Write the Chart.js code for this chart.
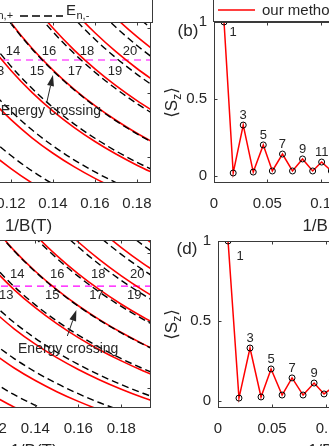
<!DOCTYPE html>
<html>
<head>
<meta charset="utf-8">
<script src="https://cdn.jsdelivr.net/npm/chart.js@4.4.1/dist/chart.umd.min.js"></script>
<style>
  html, body { margin: 0; padding: 0; background: #fff; }
  body { width: 329px; height: 446px; overflow: hidden; position: relative; }
  canvas { position: absolute; }
</style>
</head>
<body>
<canvas id="panelA"></canvas>
<canvas id="panelB"></canvas>
<canvas id="panelC"></canvas>
<canvas id="panelD"></canvas>
<script>
// ---- values ----
// (a) level energies E_{n,+} (solid red) and E_{n,-} (dashed black) vs 1/B
const invBA = [0.10, 0.11, 0.12, 0.13, 0.14, 0.15, 0.16, 0.17, 0.18, 0.19];
const ePlusA = [
  [6.799, 6.169, 5.645, 5.201, 4.820, null, null, null, null, null],
  [8.624, 7.829, 7.166, 6.605, 6.124, 5.707, 5.343, 5.021, null, null],
  [10.458, 9.496, 8.694, 8.016, 7.434, 6.930, 6.489, 6.100, 5.754, 5.445],
  [12.240, 11.116, 10.179, 9.386, 8.707, 8.118, 7.603, 7.148, 6.744, 6.382],
  [null, 12.777, 11.702, 10.792, 10.012, 9.336, 8.745, 8.223, 7.759, 7.344],
  [null, null, 13.197, 12.172, 11.294, 10.533, 9.867, 9.279, 8.756, 8.289],
  [null, null, null, null, 12.563, 11.717, 10.977, 10.323, 9.743, 9.224]
];
const eMinusA = [
  [7.289, 6.614, 6.053, 5.578, 5.170, 4.818, null, null, null, null],
  [8.944, 8.120, 7.433, 6.851, 6.353, 5.920, 5.543, 5.209, null, null],
  [10.618, 9.641, 8.827, 8.139, 7.548, 7.037, 6.589, 6.194, 5.843, 5.529],
  [12.210, 11.089, 10.154, 9.363, 8.686, 8.098, 7.584, 7.130, 6.727, 6.366],
  [null, 12.627, 11.564, 10.665, 9.894, 9.226, 8.642, 8.126, 7.667, 7.257],
  [null, null, 12.925, 11.921, 11.061, 10.316, 9.663, 9.087, 8.575, 8.117],
  [null, null, null, null, 12.214, 11.392, 10.672, 10.036, 9.472, 8.967],
  [null, null, null, null, null, null, 11.693, 10.998, 10.380, 9.827]
];
const fermiA = 9.02;

// (c) same quantities, second parameter set
const invBC = [0.12, 0.13, 0.14, 0.15, 0.16, 0.17, 0.18, 0.19, 0.20];
const ePlusC = [
  [5.777, 5.430, 5.132, 4.874, null, null, null, null, null],
  [7.042, 6.598, 6.217, 5.886, 5.597, 5.342, 5.116, null, null],
  [8.306, 7.765, 7.300, 6.898, 6.546, 6.235, 5.959, 5.711, 5.489],
  [9.571, 8.932, 8.384, 7.910, 7.494, 7.128, 6.802, 6.510, 6.248],
  [10.836, 10.100, 9.469, 8.922, 8.443, 8.021, 7.645, 7.309, 7.007],
  [12.101, 11.268, 10.553, 9.934, 9.392, 8.914, 8.489, 8.108, 7.766],
  [13.366, 12.435, 11.637, 10.946, 10.341, 9.807, 9.332, 8.907, 8.525],
  [null, 13.603, 12.722, 11.958, 11.289, 10.700, 10.175, 9.706, 9.284],
  [null, null, null, 12.970, 12.238, 11.592, 11.019, 10.505, 10.043]
];
const eMinusC = [
  [6.181, 5.803, 5.478, 5.197, null, null, null, null, null],
  [7.345, 6.878, 6.477, 6.129, 5.825, 5.556, 5.318, null, null],
  [8.509, 7.952, 7.474, 7.060, 6.698, 6.378, 6.094, 5.839, 5.611],
  [9.672, 9.025, 8.470, 7.991, 7.570, 7.199, 6.869, 6.574, 6.309],
  [10.819, 10.085, 9.455, 8.909, 8.431, 8.009, 7.634, 7.298, 6.997],
  [12.000, 11.175, 10.467, 9.853, 9.316, 8.843, 8.422, 8.044, 7.705],
  [13.164, 12.248, 11.463, 10.784, 10.189, 9.664, 9.197, 8.779, 8.404],
  [null, 13.323, 12.462, 11.715, 11.062, 10.486, 9.973, 9.514, 9.102],
  [null, null, null, 12.647, 11.935, 11.307, 10.750, 10.250, 9.801]
];
const fermiC = 9.03;

// (b), (d) <S_z> at the successive crossings
const invBB = [0.0094, 0.0180, 0.0274, 0.0368, 0.0462, 0.0547, 0.0642, 0.0736, 0.0830, 0.0925, 0.1009, 0.1100];
const szB = [1.0, 0.020, 0.331, 0.026, 0.202, 0.033, 0.143, 0.033, 0.111, 0.033, 0.091, 0.033];
const invBD = [0.0093, 0.0194, 0.0296, 0.0398, 0.0491, 0.0593, 0.0685, 0.0787, 0.0889, 0.0981, 0.1080];
const szD = [1.0, 0.018, 0.331, 0.025, 0.200, 0.037, 0.144, 0.037, 0.112, 0.044, 0.094];

const levelNo = ['13', '14', '15', '16', '17', '18', '19', '20'];
const crossNo = ['1', '3', '5', '7', '9', '11'];
const crossIdx = [0, 2, 4, 6, 8, 10];

const xTicksLevels = [0.08, 0.10, 0.12, 0.14, 0.16, 0.18];
const yTicksLevels = [6, 8, 10];
const xTicksSz = [0, 0.05, 0.1, 0.15, 0.2];
const yTicksSz = [0, 0.5, 1];

// ---- drawing ----
const INK = '#262626';
const FRAME = '#3a3a3a';
const RED = '#ff0000';
const FONT = "'Liberation Sans', Arial, 'DejaVu Sans', sans-serif";
const PAD = { l: 60, t: 30, r: 20, b: 60 };

function place(canvas, box) {
  const w = box.R - box.L + PAD.l + PAD.r, h = box.B - box.T + PAD.t + PAD.b;
  canvas.width = w; canvas.height = h;
  canvas.style.left = (box.L - PAD.l) + 'px';
  canvas.style.top = (box.T - PAD.t) + 'px';
  canvas.style.width = w + 'px';
  canvas.style.height = h + 'px';
}

function axes(xr, yr, xTicks, yTicks) {
  const tickFont = { family: FONT, size: 15 };
  const fmt = v => String(+Number(v).toFixed(3));
  return {
    x: {
      type: 'linear', min: xr[0], max: xr[1],
      afterBuildTicks: s => { s.ticks = xTicks.map(v => ({ value: v })); },
      afterFit: s => { s.height = PAD.b; },
      grid: { display: false, drawTicks: false }, border: { display: false },
      ticks: { font: tickFont, color: INK, padding: 12, maxRotation: 0, autoSkip: false, callback: fmt },
      title: { display: true, text: '1/B(T)', color: INK, font: { family: FONT, size: 17 }, padding: { top: 0, bottom: 6 } }
    },
    y: {
      type: 'linear', min: yr[0], max: yr[1],
      afterBuildTicks: s => { s.ticks = yTicks.map(v => ({ value: v })); },
      afterFit: s => { s.width = PAD.l; },
      grid: { display: false, drawTicks: false }, border: { display: false },
      ticks: { font: tickFont, color: INK, padding: 7, autoSkip: false, callback: fmt }
    }
  };
}

function drawArrow(ctx, x0, y0, x1, y1) {
  const ang = Math.atan2(y1 - y0, x1 - x0), len = 11, half = 3.5;
  const bx = x1 - len * Math.cos(ang), by = y1 - len * Math.sin(ang);
  ctx.beginPath(); ctx.moveTo(x0, y0); ctx.lineTo(bx, by); ctx.stroke();
  ctx.beginPath();
  ctx.moveTo(x1, y1);
  ctx.lineTo(bx + half * Math.sin(ang), by - half * Math.cos(ang));
  ctx.lineTo(bx - half * Math.sin(ang), by + half * Math.cos(ang));
  ctx.closePath(); ctx.fill();
}

function matlabFrame(spec) {
  return {
    id: 'matlabFrame',
    afterDatasetsDraw(chart) {
      const { ctx, chartArea: a } = chart;
      const sx = chart.scales.x, sy = chart.scales.y;
      const X = v => sx.getPixelForValue(v), Y = v => sy.getPixelForValue(v);
      const l = Math.round(a.left) + 0.5, r = Math.round(a.right) - 0.5;
      const t = Math.round(a.top) + 0.5, b = Math.round(a.bottom) - 0.5;
      ctx.save();
      ctx.setLineDash([]);
      ctx.strokeStyle = FRAME; ctx.lineWidth = 1;
      ctx.strokeRect(l, t, r - l, b - t);
      ctx.beginPath();
      sx.ticks.forEach(k => {
        const p = Math.round(X(k.value)) + 0.5;
        ctx.moveTo(p, b); ctx.lineTo(p, b - 3); ctx.moveTo(p, t); ctx.lineTo(p, t + 3);
      });
      sy.ticks.forEach(k => {
        const p = Math.round(Y(k.value)) + 0.5;
        ctx.moveTo(l, p); ctx.lineTo(l + 3, p); ctx.moveTo(r, p); ctx.lineTo(r - 3, p);
      });
      ctx.stroke();

      ctx.fillStyle = INK; ctx.strokeStyle = INK;
      ctx.textAlign = 'center'; ctx.textBaseline = 'middle';
      (spec.notes || []).forEach(n => {
        ctx.font = n.size + 'px ' + FONT;
        ctx.fillText(n.text, X(n.x), Y(n.y));
      });
      if (spec.pointNotes) {
        const pn = spec.pointNotes;
        ctx.font = '13px ' + FONT;
        pn.idx.forEach((i, j) => {
          const off = j === 0 ? pn.first : pn.rest;
          ctx.fillText(pn.texts[j], X(pn.xs[i]) + off[0], Y(pn.ys[i]) + off[1]);
        });
      }
      if (spec.arrow) {
        ctx.lineWidth = 1;
        drawArrow(ctx, X(spec.arrow.from[0]), Y(spec.arrow.from[1]), X(spec.arrow.to[0]), Y(spec.arrow.to[1]));
      }
      if (spec.tag) {
        ctx.font = '17px ' + FONT;
        ctx.fillText(spec.tag.text, a.left + spec.tag.dx, a.top + spec.tag.dy);
      }
      if (spec.szLabel) {
        ctx.save();
        ctx.translate(a.left + spec.szLabel.dx, (a.top + a.bottom) / 2);
        ctx.rotate(-Math.PI / 2);
        ctx.textAlign = 'left'; ctx.textBaseline = 'alphabetic';
        const big = '17px ' + FONT, small = '12px ' + FONT;
        ctx.font = big; const w1 = ctx.measureText('\u27E8S').width;
        const w3 = ctx.measureText('\u27E9').width;
        ctx.font = small; const w2 = ctx.measureText('z').width;
        let x = -(w1 + w2 + w3) / 2;
        ctx.font = big; ctx.fillText('\u27E8S', x, 6); x += w1;
        ctx.font = small; ctx.fillText('z', x, 10); x += w2;
        ctx.font = big; ctx.fillText('\u27E9', x, 6);
        ctx.restore();
      }
      if (spec.legend) {
        const lg = spec.legend, L = a.left, T = a.top;
        ctx.fillStyle = '#fff';
        ctx.fillRect(L + lg.box[0], T + lg.box[1], lg.box[2] - lg.box[0], lg.box[3] - lg.box[1]);
        ctx.strokeStyle = FRAME; ctx.lineWidth = 1;
        ctx.strokeRect(Math.round(L + lg.box[0]) + 0.5, Math.round(T + lg.box[1]) + 0.5,
          lg.box[2] - lg.box[0], lg.box[3] - lg.box[1]);
        lg.items.forEach(it => {
          ctx.strokeStyle = it.color; ctx.lineWidth = it.width; ctx.setLineDash(it.dash);
          ctx.beginPath(); ctx.moveTo(L + it.x0, T + it.y); ctx.lineTo(L + it.x1, T + it.y); ctx.stroke();
          ctx.setLineDash([]);
          ctx.fillStyle = INK; ctx.textAlign = 'left'; ctx.textBaseline = 'alphabetic';
          ctx.font = '15px ' + FONT;
          ctx.fillText(it.main, L + it.tx, T - 7);
          if (it.sub) {
            const w = ctx.measureText(it.main).width;
            ctx.font = '11px ' + FONT;
            ctx.fillText(it.sub, L + it.tx + w + 0.5, T - 3);
          }
        });
      }
      ctx.restore();
    }
  };
}

function levelSets(invB, plus, minus, fermi, xr) {
  const pts = row => invB.map((x, i) => ({ x, y: row[i] })).filter(p => p.y !== null);
  const sets = [{
    data: [{ x: xr[0], y: fermi }, { x: xr[1], y: fermi }],
    borderColor: '#ff00ff', borderWidth: 1.2, borderDash: [7, 5], pointRadius: 0, order: 3
  }];
  plus.forEach(row => sets.push({
    data: pts(row), borderColor: RED, borderWidth: 1.6, pointRadius: 0,
    cubicInterpolationMode: 'monotone', order: 2
  }));
  minus.forEach(row => sets.push({
    data: pts(row), borderColor: '#000', borderWidth: 1.4, borderDash: [7, 4], pointRadius: 0,
    cubicInterpolationMode: 'monotone', order: 1
  }));
  return sets;
}

function szSets(invB, sz) {
  return [{
    data: invB.map((x, i) => ({ x, y: sz[i] })),
    borderColor: RED, borderWidth: 1.5, pointRadius: 3, pointBorderColor: '#000',
    pointBorderWidth: 1, pointBackgroundColor: 'rgba(0,0,0,0)'
  }];
}

function panel(id, box, xr, yr, xTicks, yTicks, datasets, spec) {
  const canvas = document.getElementById(id);
  place(canvas, box);
  return new Chart(canvas, {
    type: 'line',
    data: { datasets },
    options: {
      responsive: false, animation: false, devicePixelRatio: 1, events: [],
      layout: { padding: { top: PAD.t, right: PAD.r, left: 0, bottom: 0 } },
      plugins: { legend: { display: false }, tooltip: { enabled: false } },
      scales: axes(xr, yr, xTicks, yTicks)
    },
    plugins: [matlabFrame(spec)]
  });
}

const xrA = [0.07, 0.1867], yrA = [5.2, 10.2];
panel('panelA', { L: -94, T: 22, R: 151, B: 183 }, xrA, yrA, xTicksLevels, yTicksLevels,
  levelSets(invBA, ePlusA, eMinusA, fermiA, xrA), {
    notes: [
      { text: levelNo[0], x: 0.1133, y: 8.678, size: 13 },
      { text: levelNo[1], x: 0.1210, y: 9.299, size: 13 },
      { text: levelNo[2], x: 0.1324, y: 8.678, size: 13 },
      { text: levelNo[3], x: 0.1381, y: 9.299, size: 13 },
      { text: levelNo[4], x: 0.1505, y: 8.678, size: 13 },
      { text: levelNo[5], x: 0.1562, y: 9.299, size: 13 },
      { text: levelNo[6], x: 0.1695, y: 8.678, size: 13 },
      { text: levelNo[7], x: 0.1767, y: 9.299, size: 13 },
      { text: 'Energy crossing', x: 0.1390, y: 7.436, size: 14 }
    ],
    arrow: { from: [0.1371, 7.716], to: [0.1400, 8.554] },
    legend: {
      box: [-40, -30, 246, 0],
      items: [
        { x0: 32, x1: 75, y: -6, color: RED, width: 1.6, dash: [], tx: 81, main: 'E', sub: 'n,+' },
        { x0: 114, x1: 157, y: -6, color: '#000', width: 1.4, dash: [8, 4], tx: 160, main: 'E', sub: 'n,-' }
      ]
    }
  });

const xrC = [0.085, 0.1938], yrC = [5.4, 10.4];
panel('panelC', { L: -83, T: 240, R: 151, B: 408 }, xrC, yrC, xTicksLevels, yTicksLevels,
  levelSets(invBC, ePlusC, eMinusC, fermiC, xrC), {
    notes: [
      { text: levelNo[0], x: 0.1265, y: 8.763, size: 13 },
      { text: levelNo[1], x: 0.1316, y: 9.388, size: 13 },
      { text: levelNo[2], x: 0.1479, y: 8.763, size: 13 },
      { text: levelNo[3], x: 0.1502, y: 9.388, size: 13 },
      { text: levelNo[4], x: 0.1684, y: 8.763, size: 13 },
      { text: levelNo[5], x: 0.1693, y: 9.388, size: 13 },
      { text: levelNo[6], x: 0.1860, y: 8.763, size: 13 },
      { text: levelNo[7], x: 0.1874, y: 9.388, size: 13 },
      { text: 'Energy crossing', x: 0.1553, y: 7.156, size: 14 }
    ],
    arrow: { from: [0.1549, 7.543], to: [0.1591, 8.317] }
  });

const xrSz = [0, 0.21];
panel('panelB', { L: 214, T: 22, R: 438, B: 183 }, xrSz, [-0.045, 1], xTicksSz, yTicksSz,
  szSets(invBB, szB), {
    pointNotes: { xs: invBB, ys: szB, idx: crossIdx, texts: crossNo, first: [9, 10], rest: [0, -10] },
    tag: { text: '(b)', dx: -26, dy: 9 },
    szLabel: { dx: -43 },
    legend: {
      box: [-1, -25, 206, -1],
      items: [{ x0: 4, x1: 41, y: -12, color: RED, width: 1.6, dash: [], tx: 48, main: 'our method', sub: '' }]
    }
  });

panel('panelD', { L: 218, T: 241, R: 445, B: 408 }, xrSz, [-0.044, 1], xTicksSz, yTicksSz,
  szSets(invBD, szD), {
    pointNotes: { xs: invBD, ys: szD, idx: crossIdx, texts: crossNo, first: [12, 15], rest: [0, -10] },
    tag: { text: '(d)', dx: -31, dy: 8 },
    szLabel: { dx: -47 }
  });
</script>
</body>
</html>
